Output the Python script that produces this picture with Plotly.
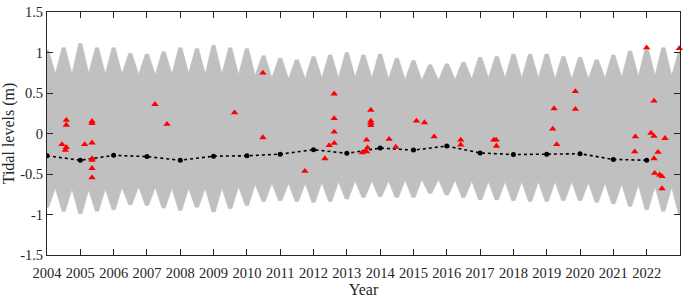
import numpy as np
import plotly.graph_objects as go

# ---------------- data ----------------
# Envelope of the hourly tidal record (gray band): extremes near each solstice
peak_times = [2004.0 + 0.5 * k for k in range(39)]
upper_peaks = [1.03, 1.06, 1.11, 1.06, 1.06, 0.99, 0.98, 1.01, 1.06, 1.05,
               1.09, 1.06, 1.05, 0.96, 0.93, 0.91, 0.95, 0.97, 1.00, 0.97,
               0.98, 0.93, 0.90, 0.85, 0.86, 0.88, 0.94, 0.95, 0.98, 0.98,
               0.98, 0.95, 0.94, 0.91, 0.97, 1.02, 1.05, 1.06, 1.01]
upper_troughs = [0.74, 0.74, 0.75, 0.74, 0.74, 0.73, 0.73, 0.74, 0.75, 0.74,
                 0.74, 0.73, 0.72, 0.69, 0.68, 0.68, 0.69, 0.69, 0.70, 0.69,
                 0.68, 0.67, 0.66, 0.66, 0.67, 0.68, 0.69, 0.69, 0.69, 0.69,
                 0.68, 0.68, 0.68, 0.69, 0.70, 0.71, 0.72, 0.72]
lower_peaks = [-0.91, -0.96, -0.99, -0.96, -0.94, -0.88, -0.89, -0.92, -0.95, -0.91,
               -0.97, -0.93, -0.89, -0.84, -0.83, -0.84, -0.85, -0.84, -0.81, -0.79,
               -0.78, -0.79, -0.79, -0.74, -0.76, -0.79, -0.82, -0.82, -0.83, -0.84,
               -0.84, -0.83, -0.83, -0.85, -0.87, -0.90, -0.94, -0.96, -0.99]
lower_troughs = [-0.68, -0.69, -0.70, -0.69, -0.67, -0.66, -0.67, -0.68, -0.68, -0.68,
                 -0.68, -0.66, -0.63, -0.62, -0.62, -0.62, -0.61, -0.60, -0.59, -0.59,
                 -0.59, -0.58, -0.57, -0.57, -0.58, -0.59, -0.60, -0.60, -0.60, -0.60,
                 -0.60, -0.60, -0.61, -0.62, -0.63, -0.64, -0.66, -0.67]

# Annual mean levels (black dotted line)
mean_years = list(range(2004, 2023))
mean_levels = [-0.275, -0.33, -0.27, -0.285, -0.33, -0.28, -0.275, -0.255, -0.20, -0.245,
               -0.18, -0.205, -0.155, -0.24, -0.26, -0.255, -0.25, -0.32, -0.33]

# Observed events (red triangles)
event_times = [2004.45, 2004.58, 2004.58, 2004.58, 2004.55, 2005.13, 2005.35, 2005.35,
               2005.35, 2005.35, 2005.35, 2005.35, 2005.35, 2007.24, 2007.60, 2009.63,
               2010.48, 2010.48, 2011.74, 2012.34, 2012.47, 2012.62, 2012.62, 2012.62,
               2012.62, 2013.46, 2013.59, 2013.62, 2013.59, 2013.72, 2013.72, 2013.72,
               2013.72, 2014.27, 2014.47, 2015.09, 2015.33, 2015.62, 2016.42, 2016.42,
               2017.41, 2017.48, 2017.49, 2019.18, 2019.22, 2019.30, 2019.86, 2019.86,
               2021.64, 2021.66, 2022.00, 2022.13, 2022.22, 2022.22, 2022.22, 2022.34,
               2022.24, 2022.39, 2022.46, 2022.46, 2022.55, 2022.98]
event_levels = [-0.135, 0.165, 0.105, -0.17, -0.205, -0.135, 0.15, 0.125,
                -0.115, -0.31, -0.33, -0.43, -0.545, 0.36, 0.115, 0.257,
                0.747, -0.05, -0.465, -0.31, -0.147, -0.12, 0.02, 0.186,
                0.49, -0.235, -0.225, -0.175, -0.08, 0.10, 0.127, 0.155,
                0.29, -0.07, -0.167, 0.155, 0.135, -0.04, -0.08, -0.14,
                -0.08, -0.08, -0.155, 0.057, 0.308, -0.135, 0.30, 0.52,
                -0.225, -0.04, 1.06, 0.006, -0.033, 0.402, -0.31, -0.23,
                -0.49, -0.51, -0.53, -0.68, -0.06, 1.05]

x_ticks = list(range(2004, 2023))
y_ticks = [-1.5, -1, -0.5, 0, 0.5, 1, 1.5]
y_ticktext = ['-1.5', '-1', '-0.5', '0', '0.5', '1', '1.5']

# ---------------- build band polygon ----------------
half = 0.05  # half-width of the flat top of each tower (style)
def envelope(peaks, troughs):
    xs, ys = [], []
    for i, (t, p) in enumerate(zip(peak_times, peaks)):
        xs += [max(2004.0, t - half), min(2023.0, t + half)]
        ys += [p, p]
        if i < len(troughs):
            xs.append(t + 0.25)
            ys.append(troughs[i])
    return xs, ys

ux, uy = envelope(upper_peaks, upper_troughs)
lx, ly = envelope(lower_peaks, lower_troughs)
band_x = ux + lx[::-1]
band_y = uy + ly[::-1]

FONT = "Liberation Serif"
AX = "#262626"

fig = go.Figure()
fig.add_trace(go.Scatter(x=band_x, y=band_y, fill="toself", mode="lines",
                         line=dict(color="#c0c0c0", width=0.5),
                         fillcolor="#c0c0c0", hoverinfo="skip", showlegend=False))
fig.add_trace(go.Scatter(x=mean_years, y=mean_levels, mode="lines+markers",
                         line=dict(color="black", width=1.6, dash="dot"),
                         marker=dict(color="black", size=5), showlegend=False))
fig.add_trace(go.Scatter(x=event_times, y=event_levels, mode="markers",
                         marker=dict(symbol="triangle-up", color="#ff0000", size=6.5),
                         showlegend=False, cliponaxis=False))

fig.update_layout(
    width=685, height=299,
    margin=dict(l=47, r=4, t=5, b=39),
    paper_bgcolor="white", plot_bgcolor="white",
    font=dict(family=FONT, size=14.5, color=AX),
    showlegend=False,
)
fig.update_xaxes(range=[2004, 2023], tickvals=x_ticks, ticks="inside", ticklen=6,
                 tickcolor=AX, showline=True, linecolor=AX, linewidth=1, mirror="ticks",
                 showgrid=False, zeroline=False, ticklabelstandoff=5,
                 title=dict(text="Year", font=dict(size=16, family=FONT), standoff=2))
fig.update_yaxes(range=[-1.5, 1.5], tickvals=y_ticks, ticktext=y_ticktext,
                 ticks="inside", ticklen=6, tickcolor=AX, showline=True, linecolor=AX,
                 linewidth=1, mirror="ticks", showgrid=False, zeroline=False,
                 ticklabeloverflow="allow",
                 title=dict(text="Tidal levels (m)", font=dict(size=16, family=FONT), standoff=2))

fig.write_html("out.html", config={"displayModeBar": False},
               post_script="document.body.style.margin='0';document.body.style.overflow='hidden';")
